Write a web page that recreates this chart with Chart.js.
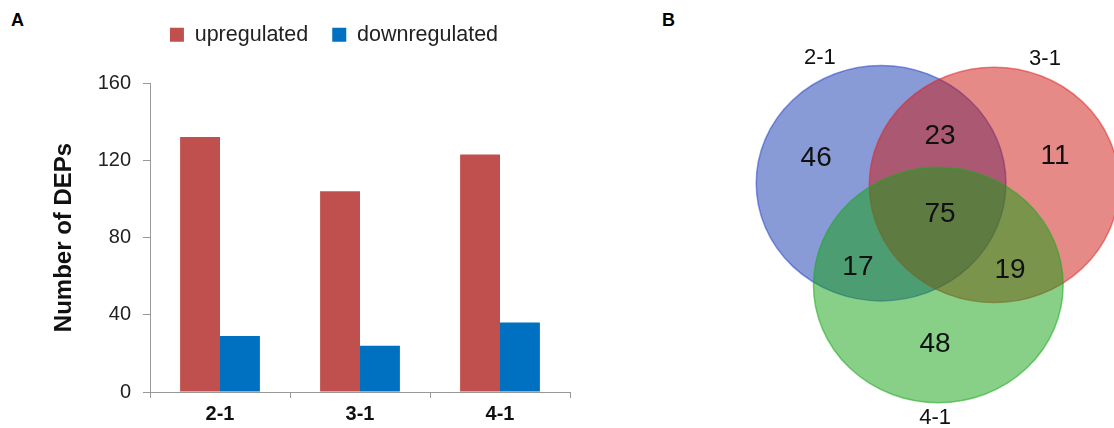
<!DOCTYPE html>
<html>
<head>
<meta charset="utf-8">
<script src="https://cdn.jsdelivr.net/npm/chart.js@4.4.1/dist/chart.umd.min.js"></script>
<style>
  body { margin: 0; background: #fff; width: 1114px; height: 428px; position: relative; overflow: hidden; font-family: Arial, "Liberation Sans", sans-serif; }
  #boxA { position: absolute; left: 0; top: 0; width: 660px; height: 428px; }
  #boxB { position: absolute; left: 660px; top: 0; width: 454px; height: 428px; }
  .panel { position: absolute; font-weight: bold; font-size: 18px; color: #000; }
</style>
</head>
<body>
<div class="panel" style="left:11px;top:10px">A</div>
<div class="panel" style="left:662px;top:10px">B</div>
<div id="boxA"><canvas id="chartA"></canvas></div>
<div id="boxB"><canvas id="chartB"></canvas></div>
<script>
// Data - panel A
var categories = ['2-1', '3-1', '4-1'];
var upregulated = [132, 104, 123];
var downregulated = [29, 24, 36];
var yTicks = [0, 40, 80, 120, 160];

// Data - panel B (venn, in plot units)
var setNames = ['2-1', '3-1', '4-1'];
var setX = [48.7, 73.6, 61.3];
var setY = [57.2, 56.8, 33.4];
var setR = [27.5, 27.5, 27.5];
var setLabelX = [35.2, 84.8, 60.6];
var setLabelY = [86.4, 86.2, 2.3];
var counts = [46, 23, 11, 75, 17, 19, 48];
var countX = [34.4, 61.7, 87.0, 61.7, 43.6, 77.1, 60.6];
var countY = [63.1, 68.2, 63.6, 50.0, 37.6, 36.9, 19.6];

var FONT = 'Arial, "Liberation Sans", sans-serif';
Chart.defaults.font.family = FONT;

// keeps the legend block a fixed height so the plot starts lower
var legendSpace = {
    id: 'legendSpace',
    beforeInit: function(chart) {
        var fit = chart.legend.fit;
        chart.legend.fit = function() {
            fit.bind(chart.legend)();
            this.height = 83;
        };
    }
};

// Panel A bar chart
var ctxA = document.getElementById('chartA').getContext('2d');
var barChart = new Chart(ctxA, {
    type: 'bar',
    data: {
        labels: categories,
        datasets: [
            { label: 'upregulated', data: upregulated, backgroundColor: '#C0504D', categoryPercentage: 0.57, barPercentage: 1.0 },
            { label: 'downregulated', data: downregulated, backgroundColor: '#0070C0', categoryPercentage: 0.57, barPercentage: 1.0 }
        ]
    },
    options: {
        responsive: true,
        maintainAspectRatio: false,
        animation: false,
        layout: { padding: { left: 98, right: 90, top: 0, bottom: 0 } },
        plugins: {
            legend: {
                position: 'top',
                labels: { boxWidth: 14, boxHeight: 14, color: '#222', font: { size: 21.5 }, padding: 24 }
            },
            tooltip: { enabled: false }
        },
        scales: {
            x: {
                grid: { drawOnChartArea: false, tickLength: 6, color: '#999', offset: true },
                border: { color: '#999' },
                ticks: { color: '#111', font: { size: 20, weight: 'bold' }, padding: 4 },
                afterFit: function(s) { s.height = 36; }
            },
            y: {
                min: 0,
                max: 160,
                afterBuildTicks: function(s) { s.ticks = yTicks.map(function(v) { return { value: v }; }); },
                ticks: { color: '#222', font: { size: 20 }, padding: 12 },
                grid: { drawOnChartArea: false, tickLength: 7, color: '#999' },
                border: { color: '#999' },
                title: { display: true, text: 'Number of DEPs', color: '#111', font: { size: 24, weight: 'bold' }, padding: { top: -48 } },
                afterFit: function(s) { s.width = 52; }
            }
        }
    },
    plugins: [legendSpace]
});

// Panel B venn, ellipses drawn from the scales
var vennFills = ['rgba(19,55,173,0.5)', 'rgba(205,21,17,0.5)', 'rgba(17,159,17,0.5)'];
var vennLines = ['rgba(40,70,200,0.55)', 'rgba(220,40,40,0.55)', 'rgba(30,170,30,0.55)'];

var vennPlugin = {
    id: 'venn',
    beforeDatasetsDraw: function(chart) {
        var c = chart.ctx;
        var xs = chart.scales.x, ys = chart.scales.y;
        chart.data.datasets[0].data.forEach(function(p, i) {
            var cx = xs.getPixelForValue(p.x);
            var cy = ys.getPixelForValue(p.y);
            var rx = xs.getPixelForValue(p.x + p.r) - cx;
            var ry = cy - ys.getPixelForValue(p.y + p.r);
            c.save();
            c.beginPath();
            c.ellipse(cx, cy, rx, ry, 0, 0, Math.PI * 2);
            c.fillStyle = vennFills[i];
            c.fill();
            c.lineWidth = 1.5;
            c.strokeStyle = vennLines[i];
            c.stroke();
            c.restore();
        });
    },
    afterDatasetsDraw: function(chart) {
        var c = chart.ctx;
        var xs = chart.scales.x, ys = chart.scales.y;
        c.save();
        c.fillStyle = '#111';
        c.textAlign = 'center';
        c.textBaseline = 'middle';
        c.font = '28px ' + FONT;
        chart.data.datasets[1].data.forEach(function(p) {
            c.fillText(String(p.v), xs.getPixelForValue(p.x), ys.getPixelForValue(p.y));
        });
        c.font = '22px ' + FONT;
        chart.data.datasets[0].data.forEach(function(p) {
            c.fillText(p.name, xs.getPixelForValue(p.lx), ys.getPixelForValue(p.ly));
        });
        c.restore();
    }
};

var circles = setNames.map(function(n, i) {
    return { x: setX[i], y: setY[i], r: setR[i], name: n, lx: setLabelX[i], ly: setLabelY[i] };
});
var countPoints = counts.map(function(v, i) {
    return { x: countX[i], y: countY[i], v: v };
});

var ctxB = document.getElementById('chartB').getContext('2d');
var vennChart = new Chart(ctxB, {
    type: 'scatter',
    data: {
        datasets: [
            { label: 'sets', data: circles, pointRadius: 0 },
            { label: 'counts', data: countPoints, pointRadius: 0 }
        ]
    },
    options: {
        responsive: true,
        maintainAspectRatio: false,
        animation: false,
        layout: { padding: 0 },
        plugins: { legend: { display: false }, tooltip: { enabled: false } },
        scales: {
            x: { display: false, min: 0, max: 100 },
            y: { display: false, min: 0, max: 100 }
        }
    },
    plugins: [vennPlugin]
});
</script>
</body>
</html>
